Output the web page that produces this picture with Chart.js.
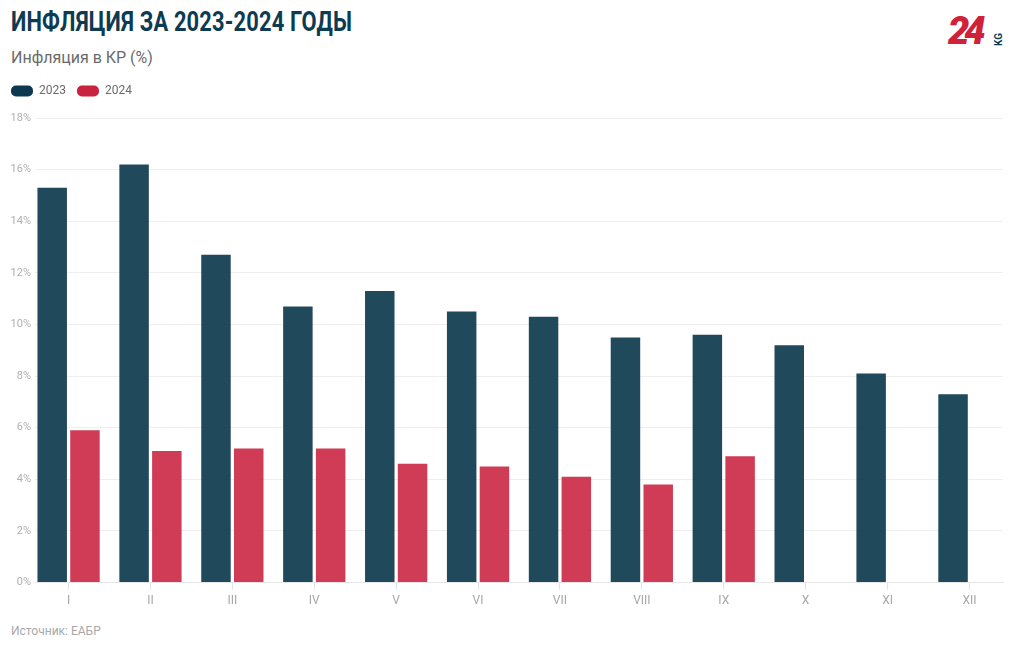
<!DOCTYPE html>
<html lang="ru">
<head>
<meta charset="utf-8">
<title>Инфляция за 2023-2024 годы</title>
<script src="https://cdn.jsdelivr.net/npm/chart.js@4.4.1/dist/chart.umd.min.js"></script>
<style>
  html, body { margin: 0; padding: 0; background: #fff; }
  body { width: 1020px; height: 650px; position: relative; overflow: hidden; font-family: Roboto, "Noto Sans", sans-serif; }
  #title { position: absolute; left: 11px; top: 6px; font-size: 27px; font-weight: 700; color: #0d3b52; white-space: nowrap; transform: scaleX(0.81); transform-origin: left top; letter-spacing: 0.2px; }
  #subtitle { position: absolute; left: 11px; top: 48px; font-size: 16px; color: #6b6b6b; }
  #source { position: absolute; left: 11px; top: 624px; font-size: 12px; color: #a8a8a8; }
  #logo { position: absolute; left: 946px; top: 8px; width: 62px; height: 42px; }
  #logo .num { position: absolute; left: 2px; top: 2px; font-size: 38px; font-weight: 900; font-style: italic; color: #d0213a; letter-spacing: -5px; line-height: 42px; }
  #logo .kg { position: absolute; left: 48px; top: 38px; font-size: 10px; font-weight: 700; color: #0d3b52; transform: rotate(-90deg); transform-origin: left top; line-height: 10px; }
  #wrap { position: absolute; left: 0; top: 74px; width: 1020px; height: 538px; }
</style>
</head>
<body>
<div id="title">ИНФЛЯЦИЯ ЗА 2023-2024 ГОДЫ</div>
<div id="subtitle">Инфляция в КР (%)</div>
<div id="logo"><span class="num">24</span><span class="kg">KG</span></div>
<div id="wrap"><canvas id="chart"></canvas></div>
<div id="source">Источник: ЕАБР</div>
<script>
// --- данные ---
const months = ['I', 'II', 'III', 'IV', 'V', 'VI', 'VII', 'VIII', 'IX', 'X', 'XI', 'XII'];
const infl2023 = [15.3, 16.2, 12.7, 10.7, 11.3, 10.5, 10.3, 9.5, 9.6, 9.2, 8.1, 7.3];
const infl2024 = [5.9, 5.1, 5.2, 5.2, 4.6, 4.5, 4.1, 3.8, 4.9];
const yTicks = [0, 2, 4, 6, 8, 10, 12, 14, 16, 18];

const barColors = { '2023': 'rgba(18, 62, 82, 0.94)', '2024': 'rgba(203, 38, 66, 0.9)' };
const legendColors = { '2023': '#0c3850', '2024': '#c8233f' };

function toPoints(values) {
    return values.map((v, i) => ({ x: i, y: v }));
}

// лишний отступ между легендой и графиком
const legendGap = {
    id: 'legendGap',
    beforeInit(chart) {
        const fit = chart.legend.fit;
        chart.legend.fit = function () {
            fit.bind(chart.legend)();
            this.height += 11;
        };
    }
};

function initChart() {
    const ctx = document.getElementById('chart').getContext('2d');

    new Chart(ctx, {
        type: 'bar',
        data: {
            datasets: [
                { label: '2023', data: toPoints(infl2023), backgroundColor: barColors['2023'] },
                { label: '2024', data: toPoints(infl2024), backgroundColor: barColors['2024'] }
            ]
        },
        options: {
            responsive: true,
            maintainAspectRatio: false,
            animation: false,
            categoryPercentage: 0.8,
            barPercentage: 0.9,
            layout: { padding: { left: 0, right: 17, top: 0, bottom: 0 } },
            scales: {
                x: {
                    type: 'linear',
                    offset: false,
                    min: -0.41,
                    max: 11.41,
                    afterBuildTicks: (scale) => {
                        scale.ticks = months.map((_, i) => ({ value: i }));
                    },
                    ticks: {
                        autoSkip: false,
                        maxRotation: 0,
                        color: '#a6a6a6',
                        padding: 4,
                        font: { family: 'Roboto', size: 12 },
                        callback: (v) => months[v]
                    },
                    grid: { offset: false, drawOnChartArea: false, drawTicks: true, tickLength: 7, color: '#e2e2e2' },
                    border: { display: true, color: '#e6e6e6' }
                },
                y: {
                    min: 0,
                    max: 18,
                    afterBuildTicks: (scale) => {
                        scale.ticks = yTicks.map(v => ({ value: v }));
                    },
                    afterFit: (scale) => { scale.width = 35; },
                    ticks: {
                        color: '#b0b0b0',
                        padding: 4,
                        font: { family: 'Roboto', size: 11 },
                        callback: (v) => v + '%'
                    },
                    grid: { color: '#eeeeee', drawTicks: false },
                    border: { display: false }
                }
            },
            plugins: {
                tooltip: { enabled: false },
                legend: {
                    position: 'top',
                    align: 'start',
                    labels: {
                        boxWidth: 22,
                        boxHeight: 11,
                        useBorderRadius: true,
                        borderRadius: 5,
                        padding: 11,
                        color: '#6b6b6b',
                        font: { family: 'Roboto', size: 12 },
                        generateLabels: (chart) => chart.data.datasets.map((ds, i) => ({
                            text: ds.label,
                            fillStyle: legendColors[ds.label],
                            strokeStyle: legendColors[ds.label],
                            lineWidth: 0,
                            borderRadius: 5,
                            datasetIndex: i,
                            fontColor: '#6b6b6b'
                        }))
                    }
                }
            }
        },
        plugins: [legendGap]
    });
}

document.addEventListener('DOMContentLoaded', initChart);
</script>
</body>
</html>
